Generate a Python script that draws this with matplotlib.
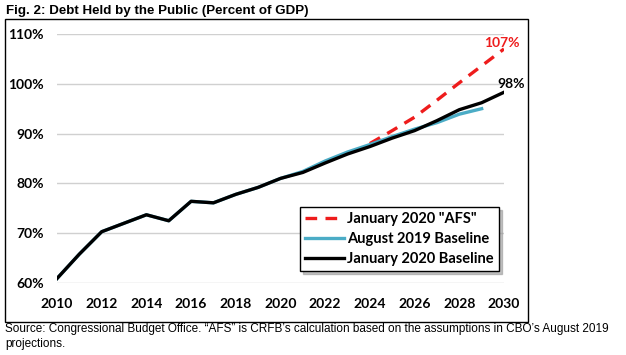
import matplotlib
matplotlib.use("Agg")
import matplotlib.pyplot as plt
from matplotlib.patches import Rectangle

years = list(range(2010, 2031))
jan2020_baseline = [60.9, 65.8, 70.3, 72.0, 73.7, 72.5, 76.4, 76.1, 77.8, 79.2,
                    81.0, 82.2, 84.1, 85.9, 87.4, 89.1, 90.6, 92.6, 94.8, 96.2, 98.3]
aug2019_years = list(range(2010, 2030))
aug2019_baseline = [60.9, 65.8, 70.3, 72.0, 73.7, 72.5, 76.4, 76.1, 77.8, 79.2,
                    81.0, 82.4, 84.5, 86.3, 87.8, 89.4, 90.9, 92.2, 93.9, 95.0]
afs_years = list(range(2024, 2031))
afs_values = [88.0, 90.6, 93.3, 96.7, 100.2, 103.6, 107.0]

W, H = 626, 355
fig = plt.figure(figsize=(W / 100, H / 100), dpi=100)

# outer frame of the chart
fig.patches.append(Rectangle((5 / W, 1 - 322 / H), 523 / W, 303 / H,
                             transform=fig.transFigure, fill=False,
                             edgecolor='black', lw=1.0))

ax = fig.add_axes([57 / W, 1 - 283 / H, 447 / W, 249 / H])
for s in ax.spines.values():
    s.set_visible(False)

bold = dict(family=['Lato', 'DejaVu Sans'], weight='bold', size=10)

ax.plot(afs_years, afs_values, color='#ee1c1c', lw=2.4, ls=(0, (3.5, 2.5)),
        label='January 2020 "AFS"', zorder=3)
ax.plot(aug2019_years, aug2019_baseline, color='#4bacc6', lw=2.4,
        label='August 2019 Baseline', zorder=3)
ax.plot(years, jan2020_baseline, color='black', lw=2.4,
        label='January 2020 Baseline', zorder=4)

ax.set_xlim(2010, 2030)
ax.set_ylim(60, 110)
ax.set_xticks(range(2010, 2031, 2))
ax.set_yticks(range(60, 111, 10))
ax.set_yticklabels(['{}%'.format(v) for v in range(60, 111, 10)])
ax.tick_params(length=0)
ax.tick_params(axis='y', pad=9.5)
ax.tick_params(axis='x', pad=11)
for lab in ax.get_xticklabels() + ax.get_yticklabels():
    lab.set_fontfamily(['Lato', 'DejaVu Sans'])
    lab.set_fontweight('bold')
    lab.set_fontsize(10)
ax.grid(axis='y', color='#d0d0d0', lw=1.0)
ax.set_axisbelow(True)

ax.text(2030.7, 107.0, '107%', color='#ee1c1c', ha='right', va='bottom',
        clip_on=False, **bold)
ax.text(2030.95, 98.8, '98%', color='black', ha='right', va='bottom',
        clip_on=False, **bold)

leg = ax.legend(loc='upper left', bbox_to_anchor=(300 / W, 1 - 207 / H),
                bbox_transform=fig.transFigure, frameon=True, fancybox=False,
                shadow={'color': '#999999', 'alpha': 0.6},
                handlelength=2.7, handletextpad=0.2,
                labelspacing=0.4, borderpad=0.35, borderaxespad=0,
                prop=dict(family=['Lato', 'DejaVu Sans'], weight='bold', size=10.5))
leg.get_frame().set_edgecolor('black')
leg.get_frame().set_linewidth(1.0)

fig.text(6 / W, 1 - 11 / H, 'Fig. 2: Debt Held by the Public (Percent of GDP)',
         family=['Liberation Sans', 'DejaVu Sans'], weight='bold', size=9.6,
         ha='left', va='center')
fig.text(5 / W, 1 - 323 / H,
         'Source: Congressional Budget Office. \u201cAFS\u201d is CRFB\u2019s calculation based on the assumptions in CBO\u2019s August 2019\nprojections.',
         family=['Liberation Sans', 'DejaVu Sans'], size=8.5, ha='left', va='top',
         linespacing=1.35)

fig.savefig('out.png', dpi=100)
